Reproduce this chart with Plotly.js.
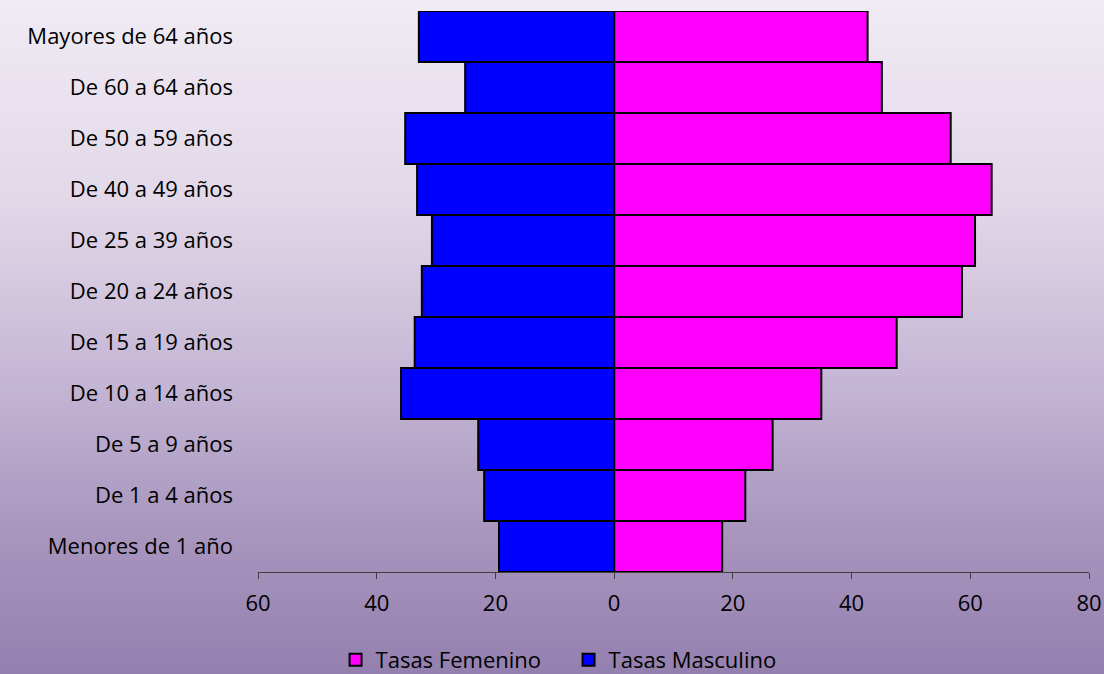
<!DOCTYPE html>
<html>
<head>
<meta charset="utf-8">
<script src="https://cdn.plot.ly/plotly-3.0.1.min.js"></script>
<style>
  html, body { margin: 0; padding: 0; }
  #chart {
    width: 1104px; height: 674px;
    background: linear-gradient(180deg, #f0ebf4 0%, #e2d8e8 30%, #c6b8d6 55%, #a997bf 78%, #9480af 100%);
  }
</style>
</head>
<body>
<div id="chart"></div>
<script>
const categories = [
  "Menores de 1 año", "De 1 a 4 años", "De 5 a 9 años", "De 10 a 14 años",
  "De 15 a 19 años", "De 20 a 24 años", "De 25 a 39 años", "De 40 a 49 años",
  "De 50 a 59 años", "De 60 a 64 años", "Mayores de 64 años"
];
const tasasFemenino = [18.2, 22.1, 26.7, 34.9, 47.6, 58.6, 60.8, 63.6, 56.7, 45.1, 42.7];
const tasasMasculino = [19.4, 21.9, 22.9, 35.9, 33.6, 32.4, 30.7, 33.2, 35.2, 25.1, 32.9];
const tickValues = [-60, -40, -20, 0, 20, 40, 60, 80];
const tickLabels = ["60", "40", "20", "0", "20", "40", "60", "80"];

const FONT = "'Open Sans', sans-serif";

const traces = [
  {
    type: "bar", orientation: "h", name: "Tasas Femenino",
    y: categories, x: tasasFemenino,
    marker: { color: "#ff00ff", line: { color: "#000000", width: 2 } },
    hoverinfo: "skip"
  },
  {
    type: "bar", orientation: "h", name: "Tasas Masculino",
    y: categories, x: tasasMasculino.map(v => -v),
    marker: { color: "#0000ff", line: { color: "#000000", width: 2 } },
    hoverinfo: "skip"
  }
];

const layout = {
  width: 1104, height: 674,
  paper_bgcolor: "rgba(0,0,0,0)",
  plot_bgcolor: "rgba(0,0,0,0)",
  margin: { l: 258, r: 15, t: 11, b: 102 },
  barmode: "relative",
  bargap: 0,
  font: { family: FONT, size: 22, color: "#000000" },
  xaxis: {
    range: [-60, 80],
    tickvals: tickValues, ticktext: tickLabels,
    showgrid: false, zeroline: false,
    showline: true, linecolor: "#404040", linewidth: 1,
    ticks: "outside", ticklen: 6, tickcolor: "#404040", tickwidth: 1,
    ticklabelstandoff: 6,
    tickfont: { family: FONT, size: 22, color: "#000000" },
    fixedrange: true
  },
  yaxis: {
    type: "category",
    showgrid: false, zeroline: false, showline: false,
    ticks: "", ticklabelstandoff: 24,
    tickfont: { family: FONT, size: 22, color: "#000000" },
    fixedrange: true
  },
  showlegend: true,
  legend: {
    orientation: "h",
    xref: "container", yref: "container",
    x: 0.515, xanchor: "center",
    y: 0.021, yanchor: "middle",
    traceorder: "normal",
    font: { family: FONT, size: 22, color: "#000000" },
    bgcolor: "rgba(0,0,0,0)",
    itemwidth: 30,
    entrywidth: 188, entrywidthmode: "pixels"
  }
};

Plotly.newPlot("chart", traces, layout, { displayModeBar: false, staticPlot: true });
</script>
</body>
</html>
